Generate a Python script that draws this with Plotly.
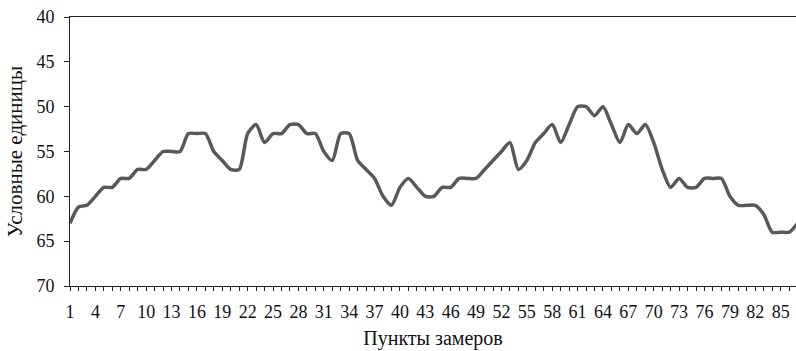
import plotly.graph_objects as go

categories = list(range(1, 88))
values = [63, 61.2, 61, 60, 59, 59, 58, 58, 57, 57,
          56, 55, 55, 55, 53, 53, 53, 55, 56, 57,
          57, 53, 52, 54, 53, 53, 52, 52, 53, 53,
          55, 56, 53, 53, 56, 57, 58, 60, 61, 59,
          58, 59, 60, 60, 59, 59, 58, 58, 58, 57,
          56, 55, 54, 57, 56, 54, 53, 52, 54, 52,
          50, 50, 51, 50, 52, 54, 52, 53, 52, 54,
          57, 59, 58, 59, 59, 58, 58, 58, 60, 61,
          61, 61, 62, 64, 64, 64, 63]
tick_labels = [str(c) if (c - 1) % 3 == 0 else "" for c in categories]
y_ticks = [40, 45, 50, 55, 60, 65, 70]

FONT = "Liberation Serif"

fig = go.Figure()
fig.add_trace(go.Scatter(
    x=categories, y=values, mode="lines",
    line=dict(color="#595959", width=3.5, shape="spline", smoothing=0.7),
    showlegend=False, hoverinfo="skip",
))

fig.update_layout(
    width=796, height=351,
    margin=dict(l=70, r=0, t=17, b=65),
    paper_bgcolor="white", plot_bgcolor="white",
    font=dict(family=FONT, size=18, color="#111"),
)
fig.update_xaxes(
    range=[1, 1 + 726 / 8.46],
    tickmode="array", tickvals=categories, ticktext=tick_labels,
    ticks="outside", ticklen=4, tickwidth=1, tickcolor="#222",
    showline=True, linecolor="#222", linewidth=1, mirror=True,
    showgrid=False, zeroline=False,
    ticklabelstandoff=5,
    tickfont=dict(family=FONT, size=18, color="#111"),
    title=dict(text="Пункты замеров", font=dict(family=FONT, size=20, color="#111"), standoff=10),
)
fig.update_yaxes(
    range=[70, 40],
    tickmode="array", tickvals=y_ticks, ticktext=[str(v) for v in y_ticks],
    ticks="outside", ticklen=5, tickwidth=1, tickcolor="#222",
    showline=True, linecolor="#222", linewidth=1,
    showgrid=False, zeroline=False,
    ticklabelstandoff=6,
    tickfont=dict(family=FONT, size=18, color="#111"),
    title=dict(text="Условные единицы", font=dict(family=FONT, size=21, color="#111"), standoff=8),
)

fig.write_html("out.html")
